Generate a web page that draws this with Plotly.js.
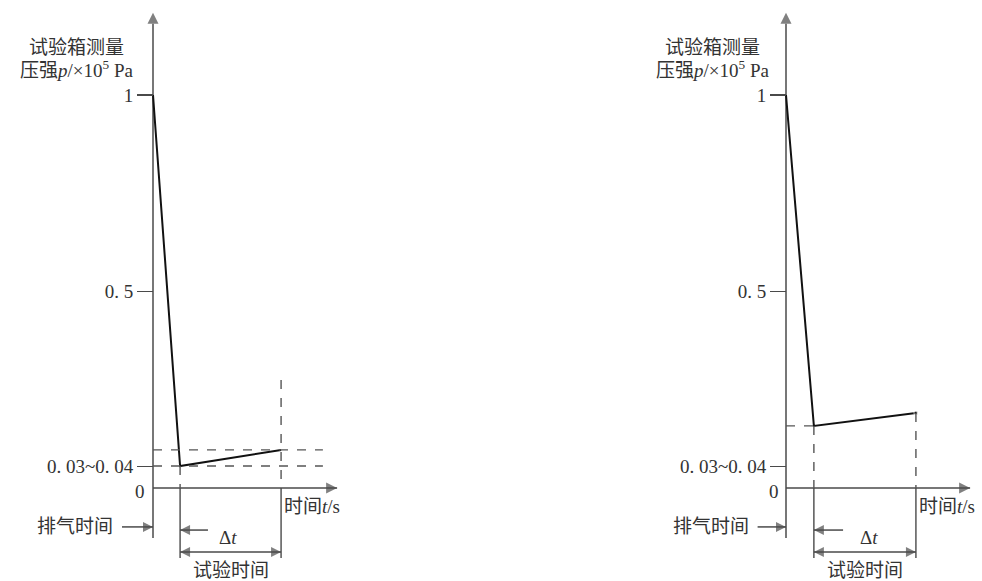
<!DOCTYPE html>
<html>
<head>
<meta charset="utf-8">
<script src="https://cdn.plot.ly/plotly-3.0.1.min.js"></script>
<style>html,body{margin:0;padding:0;background:#fff;}#chart{width:982px;height:581px;}</style>
</head>
<body>
<div id="chart"></div>
<script>
// ---- data (schematic values) ----
const leftTime = [0, 1.03, 4.87];
const leftPressure = [1, 0.056, 0.097];
const rightTime = [0, 1.06, 4.94];
const rightPressure = [1, 0.158, 0.191];
const yTickVals = [0.055, 0.5, 1];
const yTickText = ['0. 03~0. 04', '0. 5', '1'];
const yAxisTitle = ['试验箱测量', '压强<i>p</i>/×10<sup>5</sup> Pa'];
const xAxisTitle = '时间<i>t</i>/s';
const pumpLabel = '排气时间';
const testLabel = '试验时间';
const dtLabel = 'Δ<i>t</i>';

// ---- style ----
const AX = '#4a4a4a';
const DASH = '#555';
const TXT = '#333';
const FONT = 'Liberation Serif, Noto Sans CJK SC, serif';
const yTop = 1.209, yBottom = -0.127, xEnd = 7.0;
const vEnd = -0.178;

const traces = [];

function arrowLine(xs, ys, syms, sizes, xa, ya) {
  traces.push({x: xs, y: ys, xaxis: xa, yaxis: ya, mode: 'lines+markers', hoverinfo: 'skip',
    line: {color: AX, width: 1.5},
    marker: {symbol: syms, size: sizes, color: AX, line: {width: 0}}});
}

function panel(time, pres, xa, ya, opts) {
  const t1 = time[1], t2 = time[2];
  const sh = [];
  const ann = [];
  const L = (x0, y0, x1, y1, dash) => sh.push({type: 'line', xref: xa, yref: ya, x0, y0, x1, y1,
      line: {color: dash ? DASH : AX, width: 1.4, dash: dash ? 'dash' : 'solid'}});
  // guide lines
  if (opts.twoH) {
    L(0, pres[1], opts.hEnd, pres[1], true);
    L(0, pres[2], opts.hEnd, pres[2], true);
  } else {
    L(0, pres[1], t1, pres[1], true);
  }
  L(t1, pres[1], t1, 0, true);
  L(t2, opts.vTop !== undefined ? opts.vTop : pres[2], t2, 0, true);
  L(t1, 0, t1, vEnd, false);
  L(t2, 0, t2, vEnd, false);

  const A = (o, size) => ann.push(Object.assign({xref: xa, yref: ya, showarrow: false,
      font: {family: FONT, size: size || 19, color: TXT}}, o));
  // axes with arrowheads
  arrowLine([0, 0], [yBottom, yTop], ['circle', 'arrow-up'], [0, 11], xa, ya);
  arrowLine([0, xEnd], [0, 0], ['circle', 'arrow-right'], [0, 11], xa, ya);
  // pump-down time arrow
  arrowLine([opts.pumpTail, 0], [-0.099, -0.099], ['circle', 'arrow-right'], [0, 10], xa, ya);
  // delta t arrow
  arrowLine([opts.dtTail, t1], [-0.107, -0.107], ['circle', 'arrow-left'], [0, 10], xa, ya);
  // test time double arrow
  arrowLine([t1, t2], [-0.163, -0.163], ['arrow-left', 'arrow-right'], [10, 10], xa, ya);

  // texts
  A({x: opts.titleX, y: 1.122, text: yAxisTitle[0]}, 19);
  A({x: opts.titleX, y: 1.066, text: yAxisTitle[1]}, 19);
  A({x: opts.zeroX, y: -0.010, text: '0'});
  A({x: t2 + 0.05, y: -0.046, text: xAxisTitle, xanchor: 'left'});
  A({x: opts.pumpTail - 0.25, y: -0.099, text: pumpLabel, xanchor: 'right'});
  A({x: opts.dtX, y: -0.127, text: dtLabel});
  A({x: (t1 + t2) / 2, y: -0.209, text: testLabel});
  return {sh, ann};
}

const left = panel(leftTime, leftPressure, 'x', 'y',
  {twoH: true, hEnd: 6.46, vTop: 0.275, titleX: -2.9, zeroX: -0.5, pumpTail: -1.18, dtTail: 2.09, dtX: 2.85});
const right = panel(rightTime, rightPressure, 'x2', 'y2',
  {twoH: false, titleX: -2.8, zeroX: -0.45, pumpTail: -1.08, dtTail: 2.17, dtX: 3.15});

traces.push(
  {x: leftTime, y: leftPressure, xaxis: 'x', yaxis: 'y', mode: 'lines', line: {color: '#111', width: 2}, hoverinfo: 'skip'},
  {x: rightTime, y: rightPressure, xaxis: 'x2', yaxis: 'y2', mode: 'lines+markers',
   marker: {size: [0, 0, 4], color: '#111'}, line: {color: '#111', width: 2}, hoverinfo: 'skip'}
);

const K = 26.3; // px per time unit
const yRange = [-0.2366, 1.2417];
const yAx = (pos) => ({anchor: 'free', position: pos, range: yRange, domain: [0, 1], showgrid: false, zeroline: false,
  showline: false, ticks: 'outside', ticklen: 16, tickwidth: 1.4, tickcolor: AX, tickvals: yTickVals, ticktext: yTickText,
  tickfont: {family: FONT, size: 19, color: TXT}, fixedrange: true});
const xAx = (dom, x0px) => ({domain: dom, range: [(dom[0] * 982 - x0px) / K, (dom[1] * 982 - x0px) / K],
  visible: false, showgrid: false, zeroline: false, fixedrange: true});

const layout = {
  width: 982, height: 581,
  margin: {l: 0, r: 0, t: 0, b: 0},
  paper_bgcolor: '#fff', plot_bgcolor: 'rgba(0,0,0,0)',
  showlegend: false,
  xaxis: xAx([0, 0.5], 153),
  yaxis: yAx(153 / 982),
  xaxis2: xAx([0.5, 1], 786),
  yaxis2: yAx(786 / 982),
  shapes: left.sh.concat(right.sh),
  annotations: left.ann.concat(right.ann)
};

Plotly.newPlot('chart', traces, layout, {staticPlot: true});
</script>
</body>
</html>
